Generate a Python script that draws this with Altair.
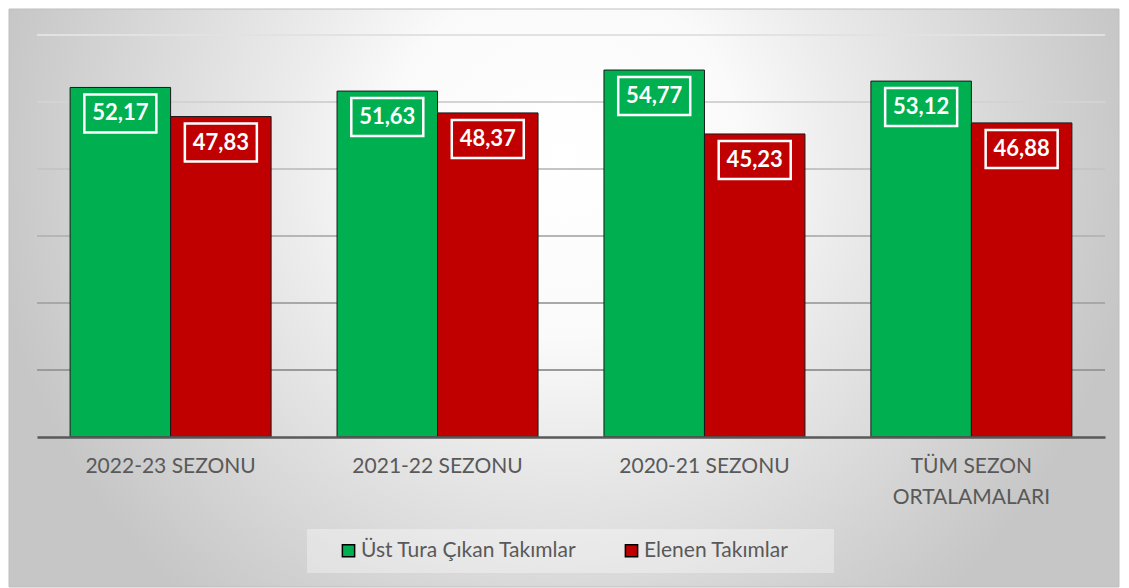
import altair as alt
import pandas as pd

categories = ["2022-23 SEZONU", "2021-22 SEZONU", "2020-21 SEZONU", "TÜM SEZON ORTALAMALARI"]
series = ["Üst Tura Çıkan Takımlar", "Elenen Takımlar"]
advanced = [52.17, 51.63, 54.77, 53.12]
eliminated = [47.83, 48.37, 45.23, 46.88]
grid_values = [10, 20, 30, 40, 50, 60]
colors = ["#00b050", "#c00000"]

rows = []
for c, a, e in zip(categories, advanced, eliminated):
    rows.append({"category": c, "series": series[0], "value": a})
    rows.append({"category": c, "series": series[1], "value": e})
df = pd.DataFrame(rows)
grid_df = pd.DataFrame({"g": grid_values})
one = pd.DataFrame({"a": [0]})

W, H = 1068, 402
FONT = "Lato"
BAR_W = 100.5
OFFS = [-BAR_W / 2, BAR_W / 2]

bg_gradient = {
    "gradient": "radial",
    "x1": 0.5, "y1": 0.375, "r1": 0,
    "x2": 0.5, "y2": 0.375, "r2": 0.52,
    "stops": [
        {"offset": 0.0, "color": "#ffffff"},
        {"offset": 0.31, "color": "#fafafa"},
        {"offset": 0.48, "color": "#ececec"},
        {"offset": 0.74, "color": "#d9d9d9"},
        {"offset": 1.0, "color": "#c6c6c6"},
    ],
}

yscale = alt.Scale(domain=[0, 60], nice=False)
xscale = alt.Scale(paddingInner=0.247, paddingOuter=0.124)
x_axis = alt.Axis(labelExpr="datum.label == 'TÜM SEZON ORTALAMALARI' ? ['TÜM SEZON', 'ORTALAMALARI'] : datum.label",
                  labelAngle=0, labelFont=FONT, labelFontSize=21, labelColor="#595959",
                  labelPadding=18, labelLineHeight=31, ticks=False, title=None,
                  domainColor="#595959", domainWidth=2.5, zindex=1)

bg = alt.Chart(one).mark_rect(fill=bg_gradient, stroke="#bfbfbf", strokeWidth=1, clip=False).encode(
    x=alt.value(-28), x2=alt.value(1082), y=alt.value(-26), y2=alt.value(552)
)

legend_bg = alt.Chart(one).mark_rect(fill="#ffffff", fillOpacity=0.35, clip=False).encode(
    x=alt.value(270), x2=alt.value(797), y=alt.value(494), y2=alt.value(538)
)

grid = alt.Chart(grid_df).mark_rule(strokeWidth=2).encode(
    x=alt.value(0), x2=alt.value(W),
    y=alt.Y("g:Q", scale=yscale, axis=None),
    stroke=alt.Stroke("g:Q", scale=alt.Scale(domain=[10, 60], range=["#9a9a9a", "#e2e2e2"]), legend=None),
)

legend = alt.Legend(title=None, orient="none", direction="horizontal",
                    legendX=301, legendY=505, symbolType="square",
                    symbolSize=150, symbolStrokeColor="#000000",
                    symbolStrokeWidth=1.5, labelFont=FONT, labelFontSize=21,
                    labelColor="#595959", columnPadding=44, labelOffset=2,
                    padding=0, labelLimit=400)

layers = [bg, legend_bg, grid]
for s, off in zip(series, OFFS):
    base = alt.Chart(df).transform_filter(alt.datum.series == s)
    layers.append(base.mark_bar(width=BAR_W, xOffset=off, stroke="#1a1a1a", strokeWidth=1).encode(
        x=alt.X("category:N", sort=categories, scale=xscale, axis=x_axis),
        y=alt.Y("value:Q", scale=yscale, axis=None),
        color=alt.Color("series:N", scale=alt.Scale(domain=series, range=colors), legend=legend),
    ))
for s, off in zip(series, OFFS):
    base = alt.Chart(df).transform_filter(alt.datum.series == s)
    layers.append(base.transform_calculate(v2="datum.value").mark_bar(
        width=72, xOffset=off, fillOpacity=0, stroke="#ffffff", strokeWidth=2.5,
        yOffset=7, y2Offset=45
    ).encode(
        x=alt.X("category:N", sort=categories, scale=xscale, axis=x_axis),
        y=alt.Y("value:Q", scale=yscale, axis=None),
        y2="v2:Q",
    ))
    layers.append(base.transform_calculate(
        lab="replace(format(datum.value, '.2f'), '.', ',')"
    ).mark_text(dy=26, xOffset=off, baseline="middle", align="center", font=FONT, fontSize=22,
                fontWeight="bold", color="#ffffff").encode(
        x=alt.X("category:N", sort=categories, scale=xscale, axis=x_axis),
        y=alt.Y("value:Q", scale=yscale, axis=None),
        text="lab:N",
    ))

chart = alt.layer(*layers).properties(
    width=W, height=H, padding=0, background="#ffffff"
).configure_view(stroke=None)

chart.save("out.html", embed_options={"renderer": "svg", "actions": False})
